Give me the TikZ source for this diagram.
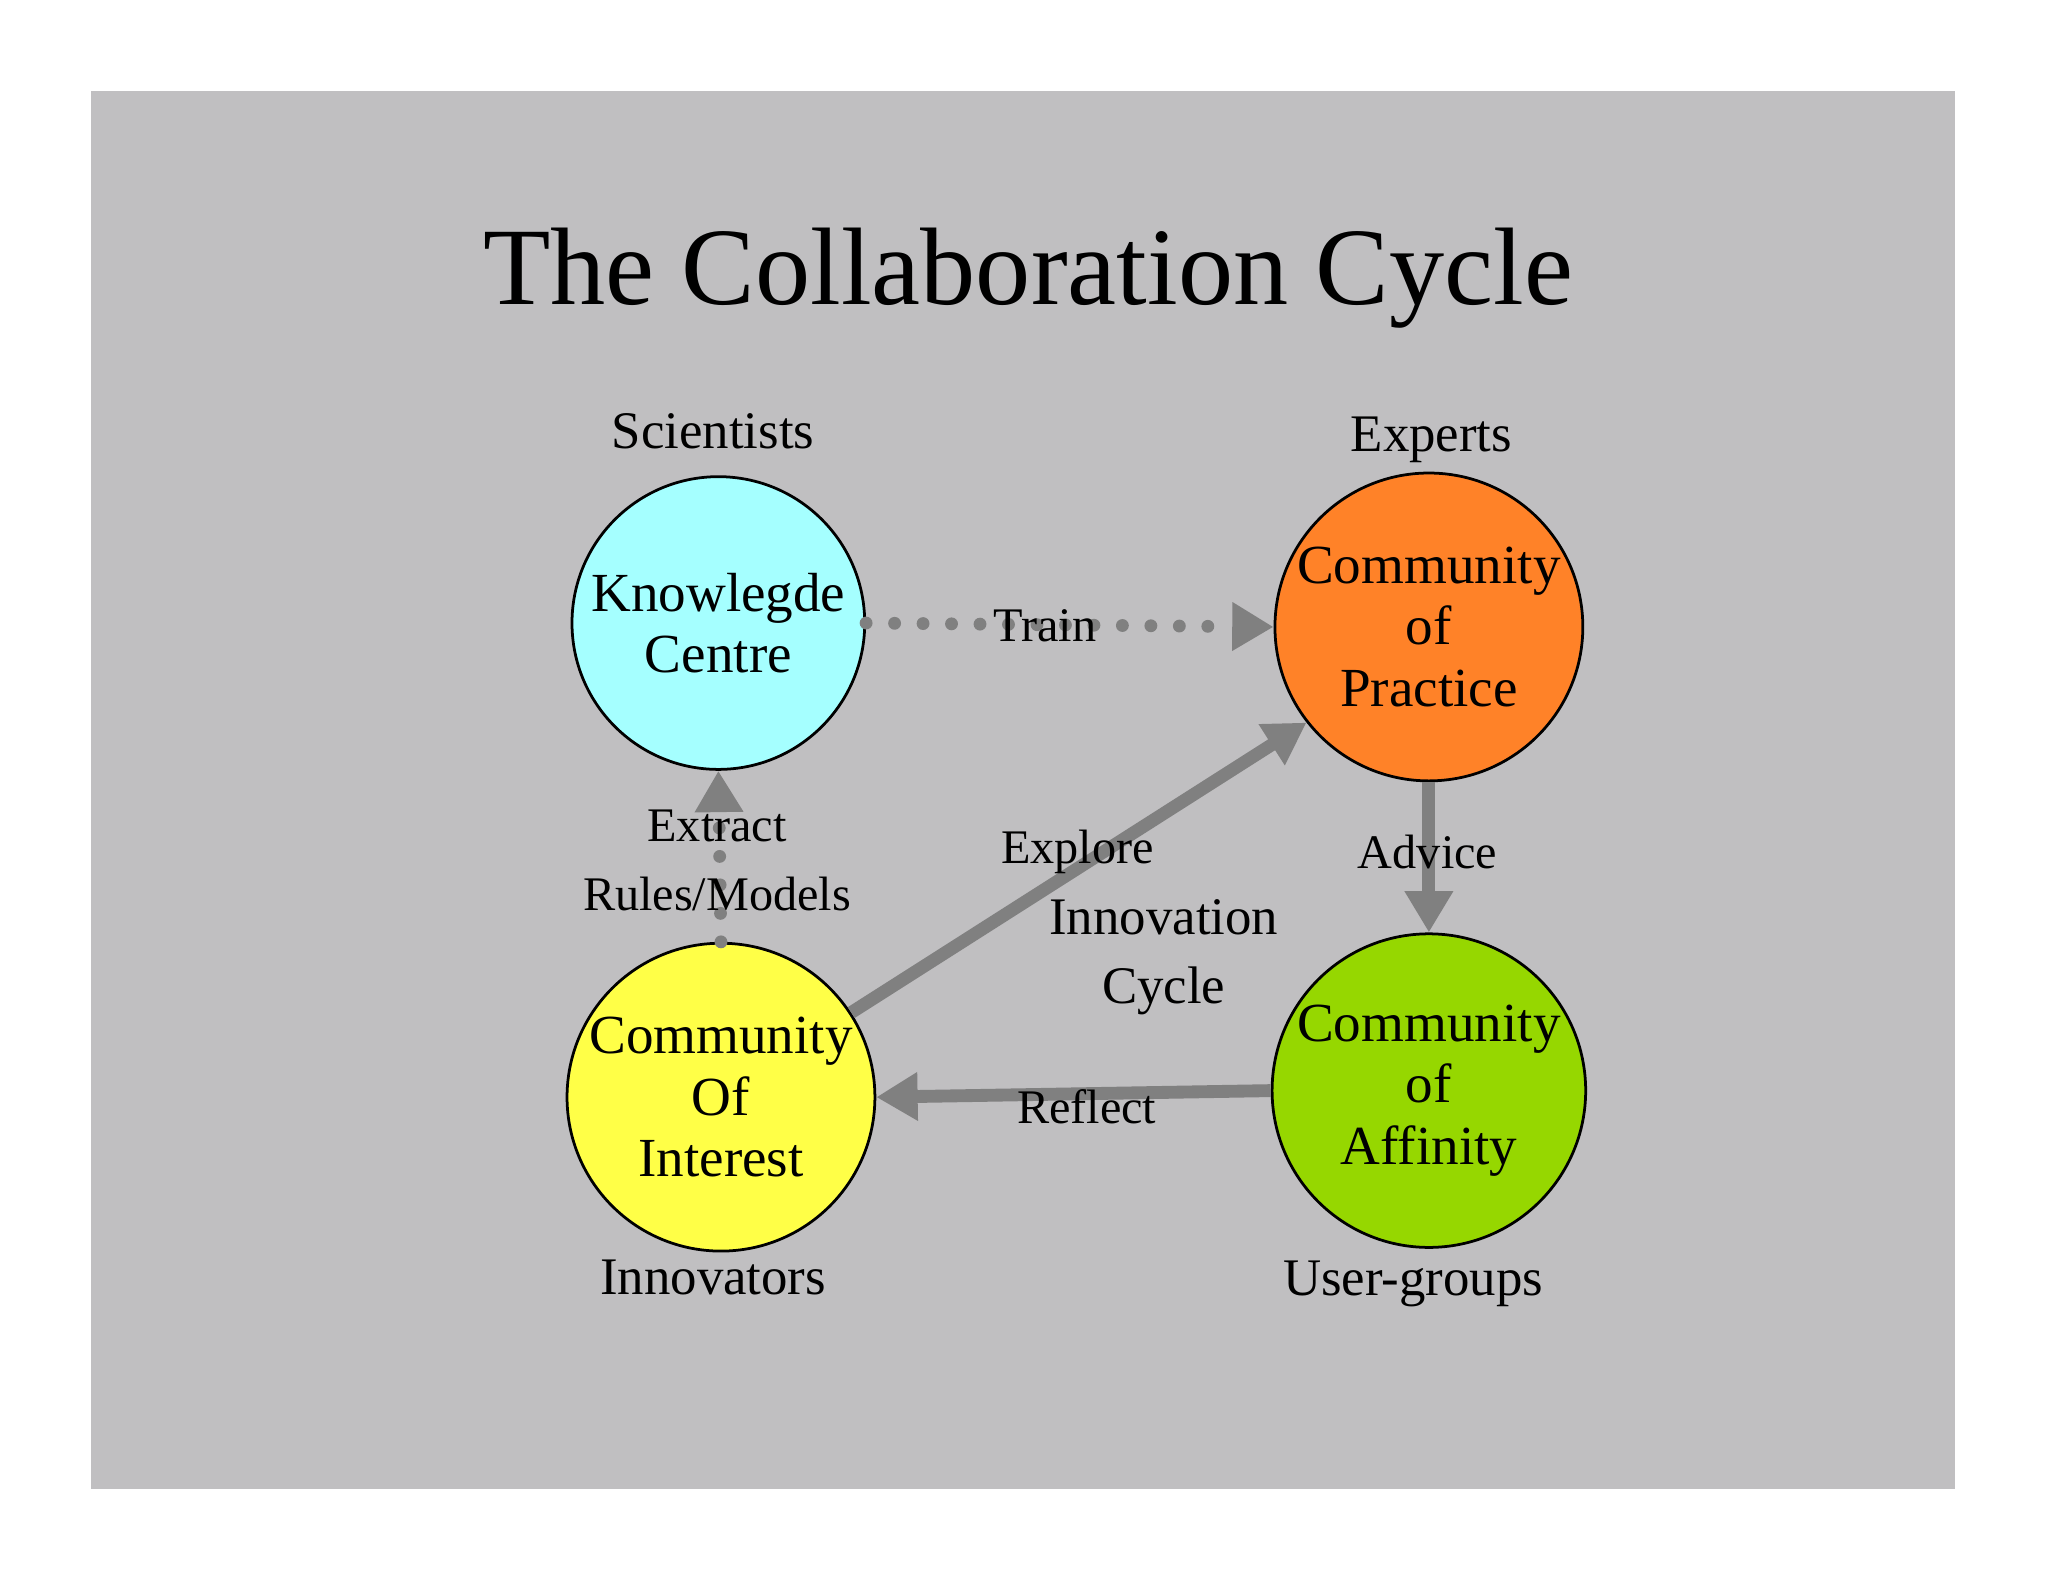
\documentclass[tikz,border=0pt]{standalone}
\usepackage{fontspec}
\setmainfont{Liberation Serif}
\usetikzlibrary{arrows.meta}
\definecolor{bg}{HTML}{C0BFC1}
\definecolor{edge}{HTML}{808080}
\definecolor{kcc}{HTML}{A5FFFF}
\definecolor{copc}{RGB}{255,130,40}
\definecolor{coic}{RGB}{255,255,71}
\definecolor{coac}{RGB}{150,215,0}
\begin{document}
\begin{tikzpicture}[x=0.01cm,y=-0.01cm,
  circ/.style={circle,draw=black,line width=0.6pt,minimum size=2.24cm,inner sep=0pt,align=center,font=\fontsize{12}{13.4}\selectfont},
  lab/.style={font=\fontsize{11.5}{13}\selectfont},
  elab/.style={font=\fontsize{10.5}{12}\selectfont,align=center,inner sep=0pt},
  conn/.style={draw=edge,line width=2.8pt,-{Triangle[length=9pt,width=10pt]}},
  dotconn/.style={conn,line cap=round,dash pattern=on 0pt off 6.2pt}]
\useasboundingbox (0,0) rectangle (1568,1211);
\fill[bg] (70,70) rectangle (1497,1140);
\node[font=\fontsize{24}{28}\selectfont] (title) at (787,213) {The Collaboration Cycle};
\node[circ,fill=kcc] at (550,477) (kc) {Knowlegde\\Centre};
\node[circ,fill=copc] at (1094,480) (cop) {Community\\of\\Practice};
\node[circ,fill=coic] at (552,840) (coi) {Community\\Of\\Interest};
\node[circ,fill=coac] at (1094,835) (coa) {Community\\of\\Affinity};
\node[lab] (s) at (546,330) {Scientists};
\node[lab] (e) at (1096,337) {Experts};
\node[lab] (i) at (546,978) {Innovators};
\node[lab] (u) at (1082,983) {User-groups};
\draw[dotconn] (kc.east) -- (cop.west);
\draw[dotconn] (coi.north) -- (kc.south);
\draw[conn] (coi.33) -- (cop.218);
\draw[conn] (cop.south) -- (coa.north);
\draw[conn] (coa.west) -- (coi.east);
\node[elab] (tr) at (800,479) {Train};
\node[elab,align=center] (ex) at (549,659) {Extract\\[3pt]Rules/Models};
\node[elab] (exp) at (825,652) {Explore};
\node[elab] (ad) at (1093,652) {Advice};
\node[elab] (re) at (832,847) {Reflect};
\node[lab,align=center] (ic) at (891,733) {Innovation\\[2pt]Cycle};
\end{tikzpicture}
\end{document}
